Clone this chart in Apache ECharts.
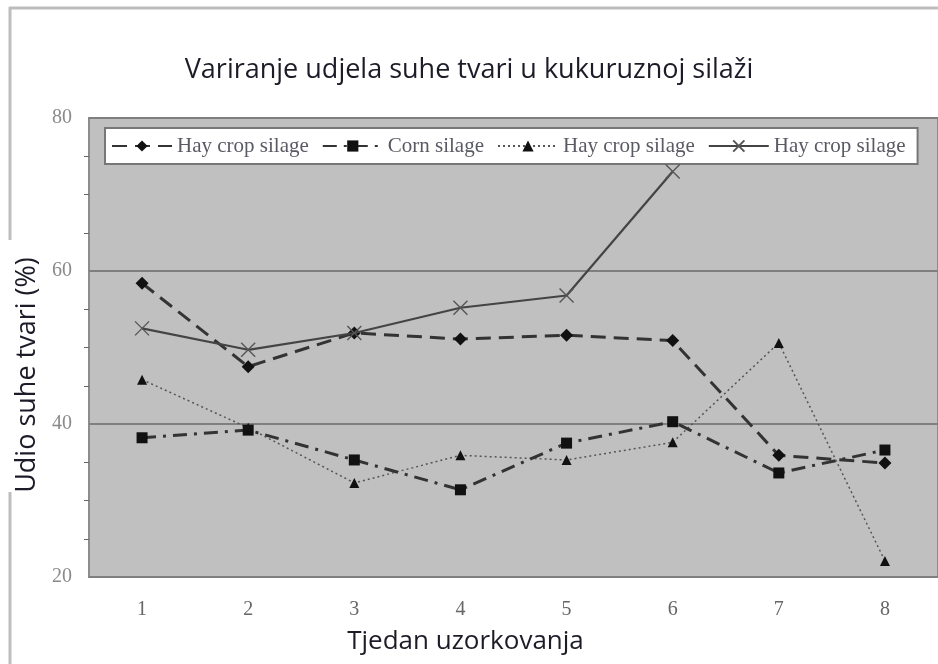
<!DOCTYPE html>
<html>
<head>
<meta charset="utf-8">
<script src="https://cdn.jsdelivr.net/npm/echarts@6/dist/echarts.min.js"></script>
<style>html,body{margin:0;padding:0;background:#fff;}#c{width:938px;height:664px;}</style>
</head>
<body>
<div id="c"></div>
<script>
const weeks = ['1','2','3','4','5','6','7','8'];
const hayCrop1 = [58.4, 47.5, 51.9, 51.1, 51.6, 50.9, 35.9, 34.9];
const cornSilage = [38.2, 39.2, 35.3, 31.4, 37.5, 40.3, 33.6, 36.6];
const hayCrop2 = [45.8, 39.5, 32.3, 35.9, 35.3, 37.6, 50.6, 22.1];
const hayCrop3 = [52.5, 49.7, 51.9, 55.2, 56.8, 73.0, null, null];
const seriesNames = ['Hay crop silage', 'Corn silage', 'Hay crop silage ', 'Hay crop silage  '];

const chart = echarts.init(document.getElementById('c'));
const serif = '"Liberation Serif", "DejaVu Serif", serif';
const sans = '"Open Sans", "Noto Sans", sans-serif';
chart.setOption({
  animation: false,
  backgroundColor: '#fff',
  title: {
    text: 'Variranje udjela suhe tvari u kukuruznoj silaži',
    left: 'center',
    top: 52,
    textStyle: { fontFamily: sans, fontSize: 27, fontWeight: 'normal', color: '#1c1c28' }
  },
  graphic: [
    { type: 'line', z: -1, shape: { x1: 10, y1: 7, x2: 10, y2: 240 }, style: { stroke: '#bdbdbd', lineWidth: 3 } },
    { type: 'line', z: -1, shape: { x1: 10, y1: 492, x2: 10, y2: 664 }, style: { stroke: '#bdbdbd', lineWidth: 3 } },
    { type: 'line', z: -1, shape: { x1: 9, y1: 8, x2: 938, y2: 8 }, style: { stroke: '#bdbdbd', lineWidth: 3 } }
  ],
  legend: {
    left: 105, top: 128,
    backgroundColor: '#fff',
    borderColor: '#777', borderWidth: 2,
    padding: [6, 12, 6, 6],
    itemGap: 13,
    itemWidth: 60, itemHeight: 14,
    textStyle: { fontFamily: serif, fontSize: 21, lineHeight: 24, color: '#5a5a64' },
    data: seriesNames,
    formatter: function (n) { return n.trim(); }
  },
  grid: {
    left: 89, right: 0, top: 118, bottom: 87,
    show: true, backgroundColor: '#c0c0c0', borderColor: '#8c8c8c', borderWidth: 2
  },
  xAxis: {
    type: 'category', data: weeks, boundaryGap: true,
    name: 'Tjedan uzorkovanja', nameLocation: 'middle', nameGap: 52,
    nameTextStyle: { fontFamily: sans, fontSize: 26, color: '#1c1c28', padding: [0, 96, 0, 0] },
    axisLine: { show: false }, axisTick: { show: false },
    axisLabel: { fontFamily: serif, fontSize: 20, color: '#666', margin: 23 }
  },
  yAxis: {
    type: 'value', min: 20, max: 80, interval: 20,
    name: 'Udio suhe tvari (%)', nameLocation: 'middle', nameGap: 47,
    nameTextStyle: { fontFamily: sans, fontSize: 27, color: '#1c1c28', padding: [0, 55, 0, 0] },
    axisLine: { show: false },
    axisTick: { show: false },
    minorTick: { show: true, splitNumber: 4, length: 5, lineStyle: { color: '#666', width: 1 } },
    axisLabel: { fontFamily: serif, fontSize: 20, color: '#8a8a8a', margin: 17 },
    splitLine: { show: true, lineStyle: { color: '#7f7f7f', width: 2 } }
  },
  series: [
    {
      name: seriesNames[0], type: 'line', data: hayCrop1,
      symbol: 'diamond', symbolSize: 13,
      lineStyle: { color: '#333', width: 3, type: [15, 8] },
      itemStyle: { color: '#111' }, z: 4
    },
    {
      name: seriesNames[1], type: 'line', data: cornSilage,
      symbol: 'rect', symbolSize: 11,
      lineStyle: { color: '#333', width: 3, type: [14, 7, 3, 7] },
      itemStyle: { color: '#111' }, z: 3
    },
    {
      name: seriesNames[2], type: 'line', data: hayCrop2,
      symbol: 'triangle', symbolSize: 10,
      lineStyle: { color: '#555', width: 1.5, type: [2, 3] },
      itemStyle: { color: '#111' }, z: 2
    },
    {
      name: seriesNames[3], type: 'line', data: hayCrop3,
      symbol: 'path://M0,0L10,10M10,0L0,10', symbolSize: 14,
      lineStyle: { color: '#444', width: 2.2, type: 'solid' },
      itemStyle: { color: 'rgba(0,0,0,0)', borderColor: '#555', borderWidth: 1.4 }, z: 5
    }
  ]
});
</script>
</body>
</html>
